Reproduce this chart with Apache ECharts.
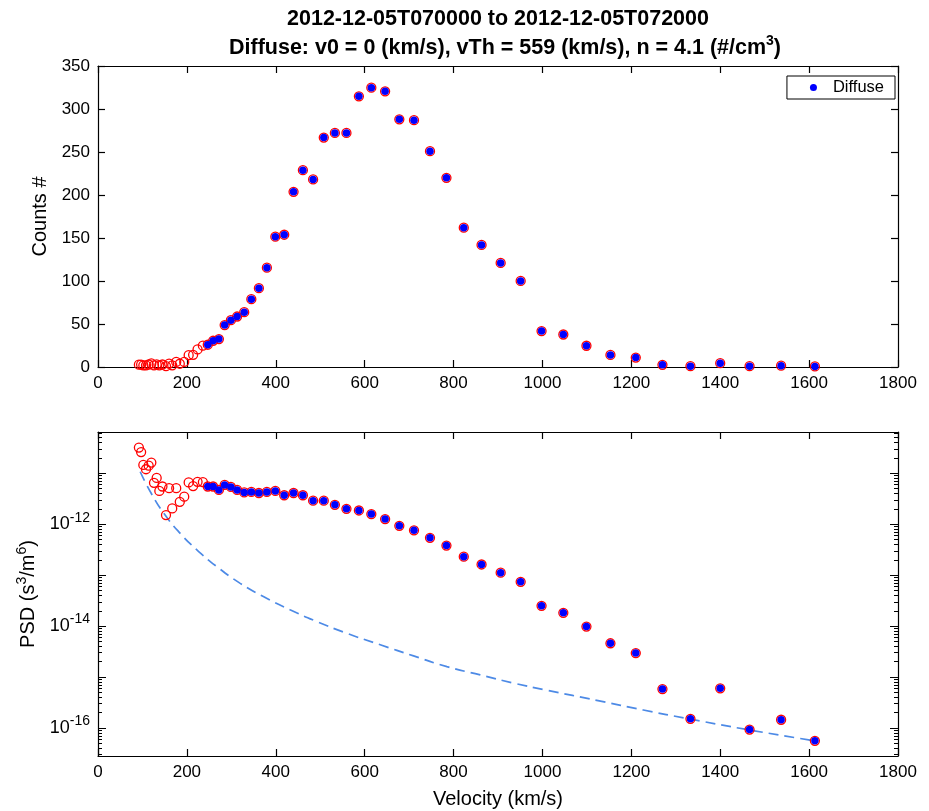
<!DOCTYPE html>
<html><head><meta charset="utf-8">
<script src="https://cdn.jsdelivr.net/npm/echarts@6/dist/echarts.min.js"></script>
<style>html,body{margin:0;padding:0;background:#fff}#c{width:929px;height:811px}</style>
</head><body><div id="c"></div>
<script>
// ---- data ----
const titleLine1 = '2012-12-05T070000 to 2012-12-05T072000';
const velocityLow = [92, 97, 102, 108, 114, 120, 126, 132, 138, 145, 153, 160, 167, 176, 184, 194, 204, 214, 224, 236];
const velocityDiffuse = [247, 259, 272, 285, 299, 313, 329, 345, 362, 380, 399, 419, 440, 461, 484, 508, 533, 559, 587, 615,
  646, 678, 711, 747, 784, 823, 863, 906, 951, 998, 1047, 1099, 1153, 1210, 1270, 1333, 1400, 1466, 1537, 1613];
const countsLow = [2.7, 2.8, 1.9, 2, 2.9, 4.1, 2, 3, 2, 2.9, 1, 4, 1.9, 5.9, 3.8, 5.9, 13.8, 14.1, 20.4, 24.8];
const countsDiffuse = [25.9, 30.5, 32.5, 48.7, 54.5, 58.7, 63.8, 78.9, 91.6, 115.5, 151.5, 153.8, 203.7, 228.9, 218.1, 266.8, 272.2, 272.2, 314.7, 324.8,
  320.5, 288, 287, 251, 220, 162, 141.9, 121, 100.1, 41.8, 37.8, 24.7, 14, 11, 2.5, 1, 4.5, 1, 1.5, 0.7];
const psdLow = [3.2e-11, 2.6e-11, 1.46e-11, 1.2e-11, 1.41e-11, 1.62e-11, 6.5e-12, 8.1e-12, 4.5e-12, 5.5e-12,
  1.51e-12, 5.1e-12, 2.04e-12, 5.1e-12, 2.75e-12, 3.47e-12, 6.6e-12, 5.6e-12, 6.8e-12, 6.7e-12];
const psdDiffuse = [5.5e-12, 5.5e-12, 4.7e-12, 5.9e-12, 5.4e-12, 4.7e-12, 4.2e-12, 4.3e-12, 4.1e-12, 4.3e-12,
  4.5e-12, 3.7e-12, 4.1e-12, 3.7e-12, 2.9e-12, 2.9e-12, 2.4e-12, 2.0e-12, 1.86e-12, 1.58e-12,
  1.26e-12, 9.3e-13, 7.6e-13, 5.4e-13, 3.8e-13, 2.3e-13, 1.62e-13, 1.12e-13, 7.4e-14, 2.5e-14,
  1.82e-14, 9.8e-15, 4.6e-15, 2.95e-15, 5.8e-16, 1.51e-16, 6.0e-16, 9.3e-17, 1.45e-16, 5.6e-17];
const modelVelocity = [95, 120, 151, 185, 222, 267, 320, 372, 432, 492, 560, 635, 710, 785, 860, 935, 1010, 1125, 1227, 1330, 1467, 1612];
const modelPsd = [1.07e-11, 4.0e-12, 1.51e-12, 6.6e-13, 3.16e-13, 1.48e-13, 6.9e-14, 3.8e-14, 2.09e-14, 1.23e-14,
  7.2e-15, 4.3e-15, 2.6e-15, 1.6e-15, 1.10e-15, 7.6e-16, 5.5e-16, 3.45e-16, 2.25e-16, 1.51e-16, 9.1e-17, 5.6e-17];
const psdMajorTicks = [1e-16, 1e-15, 1e-14, 1e-13, 1e-12, 1e-11];
const psdLabelTicks = [1e-16, 1e-14, 1e-12];
const psdMin = Math.pow(10, -16.55), psdMax = Math.pow(10, -10.19);

// ---- build ----
const psdMinorTicks = [];
[-17, -16, -15, -14, -13, -12, -11].forEach(e => { for (let m = 2; m <= 9; m++) psdMinorTicks.push(m * Math.pow(10, e)); });
const zip = (a, b) => a.map((v, i) => [v, b[i]]);
const allV = velocityLow.concat(velocityDiffuse);
const FONT = '"Liberation Sans", Arial, Helvetica, sans-serif';
const line = { show: true, onZero: false, lineStyle: { color: '#000', width: 1.2 } };
const plain = v => String(v);

function xAx(grid, pos, labels, name) {
  return {
    type: 'value', gridIndex: grid, position: pos, min: 0, max: 1800, interval: 200,
    axisLine: line, splitLine: { show: false },
    axisTick: { show: true, inside: true, length: 7, lineStyle: { color: '#000', width: 1.2 } },
    axisLabel: { show: labels, color: '#000', fontSize: 17, fontFamily: FONT, margin: 8, formatter: plain },
    name: name || '', nameLocation: 'middle', nameGap: 33,
    nameTextStyle: { color: '#000', fontSize: 20, fontFamily: FONT }
  };
}
function logAx(pos, ticks, len, labels, name, showLine) {
  return {
    type: 'log', logBase: 10, gridIndex: 1, position: pos, min: psdMin, max: psdMax,
    axisLine: { show: showLine, onZero: false, lineStyle: { color: '#000', width: 1.2 } }, splitLine: { show: false },
    axisTick: { show: true, inside: true, length: len, customValues: ticks, lineStyle: { color: '#000', width: 1 } },
    axisLabel: labels ? {
      show: true, customValues: psdLabelTicks, margin: 8, color: '#000', fontFamily: FONT,
      formatter: v => '{b|10}{s|' + Math.round(Math.log10(v)) + '}',
      rich: { b: { fontSize: 18, fontFamily: FONT, color: '#000' }, s: { fontSize: 14, fontFamily: FONT, color: '#000', padding: [0, 0, 13, 0] } }
    } : { show: false },
    name: name || '', nameLocation: 'middle', nameGap: 55,
    nameTextStyle: { color: '#000', fontSize: 20, fontFamily: FONT,
      rich: { n: { fontSize: 20, fontFamily: FONT, color: '#000' }, sup: { fontSize: 14, fontFamily: FONT, color: '#000', padding: [0, 0, 13, 0] } } }
  };
}

const option = {
  animation: false,
  backgroundColor: '#fff',
  graphic: [
    { type: 'text', x: 498, y: 19, style: { text: titleLine1, font: 'bold 21.5px ' + FONT, fill: '#000', textAlign: 'center', textVerticalAlign: 'middle' } },
    { type: 'text', x: 505, y: 48, style: {
      text: '{t|Diffuse: v0 = 0 (km/s), vTh = 559 (km/s), n = 4.1 (#/cm}{s|3}{t|)}',
      textAlign: 'center', textVerticalAlign: 'middle',
      rich: { t: { font: 'bold 21.5px ' + FONT, fill: '#000' }, s: { font: 'bold 14px ' + FONT, fill: '#000', padding: [0, 0, 13, 0] } } } }
  ],
  legend: {
    data: ['Diffuse'], right: 34, top: 76, orient: 'vertical', icon: 'circle', itemWidth: 7, itemHeight: 7,
    borderColor: '#000', borderWidth: 1, borderRadius: 0, padding: [3, 11, 3, 23], backgroundColor: '#fff',
    textStyle: { color: '#000', fontSize: 16.5, fontFamily: FONT, padding: [0, 0, 0, 11] }, itemGap: 4
  },
  grid: [
    { left: 98, top: 66, width: 800, height: 301 },
    { left: 98, top: 432, width: 800, height: 324 }
  ],
  xAxis: [xAx(0, 'bottom', true), xAx(0, 'top', false), xAx(1, 'bottom', true, 'Velocity (km/s)'), xAx(1, 'top', false)],
  yAxis: [
    { type: 'value', gridIndex: 0, position: 'left', min: 0, max: 350, interval: 50, axisLine: line, splitLine: { show: false },
      axisTick: { show: true, inside: true, length: 7, lineStyle: { color: '#000', width: 1.2 } },
      axisLabel: { color: '#000', fontSize: 17, fontFamily: FONT, margin: 8, formatter: plain },
      name: 'Counts #', nameLocation: 'middle', nameGap: 46, nameTextStyle: { color: '#000', fontSize: 20, fontFamily: FONT } },
    { type: 'value', gridIndex: 0, position: 'right', min: 0, max: 350, interval: 50, axisLine: line, splitLine: { show: false },
      axisTick: { show: true, inside: true, length: 7, lineStyle: { color: '#000', width: 1.2 } }, axisLabel: { show: false } },
    logAx('left', psdMajorTicks, 8, true, '{n|PSD (s}{sup|3}{n|/m}{sup|6}{n|)}', true),
    logAx('left', psdMinorTicks, 4, false, '', false),
    logAx('right', psdMajorTicks, 8, false, '', true),
    logAx('right', psdMinorTicks, 4, false, '', false)
  ],
  series: [
    { type: 'scatter', name: 'all', xAxisIndex: 0, yAxisIndex: 0, data: zip(allV, countsLow.concat(countsDiffuse)),
      symbol: 'circle', symbolSize: 9, itemStyle: { color: 'rgba(0,0,0,0)', borderColor: '#ff0000', borderWidth: 1.3, opacity: 1 }, z: 2 },
    { type: 'scatter', name: 'Diffuse', xAxisIndex: 0, yAxisIndex: 0, data: zip(velocityDiffuse, countsDiffuse),
      symbol: 'circle', symbolSize: 7.5, itemStyle: { color: '#0000ff', opacity: 1 }, z: 3 },
    { type: 'line', name: 'model', xAxisIndex: 2, yAxisIndex: 2, data: zip(modelVelocity, modelPsd), smooth: true,
      showSymbol: false, symbol: 'none', lineStyle: { color: '#4d8ae6', width: 1.7, type: [10, 6] }, z: 1 },
    { type: 'scatter', name: 'all', xAxisIndex: 2, yAxisIndex: 2, data: zip(allV, psdLow.concat(psdDiffuse)),
      symbol: 'circle', symbolSize: 9, itemStyle: { color: 'rgba(0,0,0,0)', borderColor: '#ff0000', borderWidth: 1.3, opacity: 1 }, z: 2 },
    { type: 'scatter', name: 'Diffuse', xAxisIndex: 2, yAxisIndex: 2, data: zip(velocityDiffuse, psdDiffuse),
      symbol: 'circle', symbolSize: 7.5, itemStyle: { color: '#0000ff', opacity: 1 }, z: 3 }
  ]
};
const chart = echarts.init(document.getElementById('c'), null, { renderer: 'canvas' });
chart.setOption(option);
</script>
</body></html>
